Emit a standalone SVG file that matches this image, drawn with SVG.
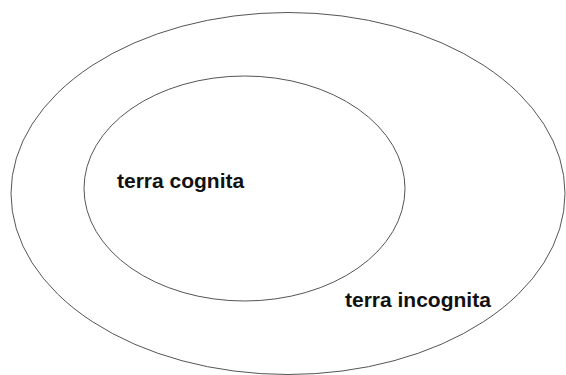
<svg xmlns="http://www.w3.org/2000/svg" width="566" height="375" viewBox="0 0 566 375">
<style>
.ring{fill:none;stroke:#555;stroke-width:1}
.lbl{font-family:"Liberation Sans",Arial,sans-serif;font-size:21px;font-weight:bold;fill:#111}
</style>
<rect width="566" height="375" fill="#fff"/>
<g id="terra-incognita">
<ellipse class="ring" cx="288" cy="193.5" rx="277" ry="181"/>
<text class="lbl" x="345" y="306.5">terra incognita</text>
</g>
<g id="terra-cognita">
<ellipse class="ring" cx="244.5" cy="188.5" rx="160.5" ry="112.5"/>
<text class="lbl" x="117" y="188.3">terra cognita</text>
</g>
<g id="connectors"/>
</svg>
